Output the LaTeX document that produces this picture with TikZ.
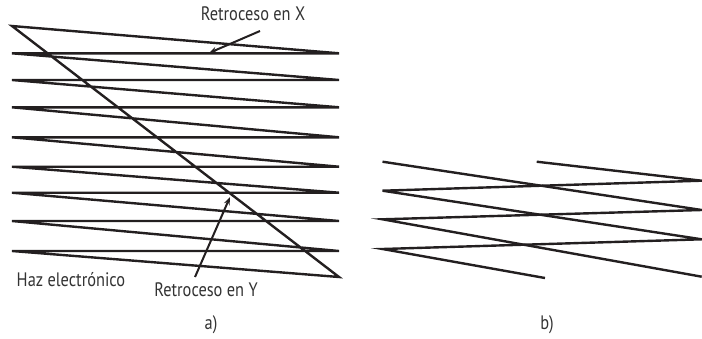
\documentclass[tikz,border=0pt]{standalone}
\usepackage{fontspec}
\setmainfont{PT Sans}
\usetikzlibrary{arrows.meta}
\definecolor{ink}{HTML}{231F20}
\definecolor{txt}{HTML}{333333}
\newcommand\narrowlbl[1]{\scalebox{0.84}[1]{#1}}
\begin{document}
\begin{tikzpicture}[x=1pt,y=-1pt,
  scan/.style={draw=ink, line width=2.4pt, line cap=butt, line join=miter},
  lbl/.style={inner sep=0pt, font=\fontsize{19.5}{19.5}\selectfont, text=txt},
  pointer/.style={draw=ink, line width=2pt, -{Stealth[length=8pt,width=6pt]}}]
\useasboundingbox (0,0) rectangle (702,338);
% part a
\draw[scan] (12,26) -- (339,53.3) -- (12,53.3) -- (339,80) -- (12,80) -- (339,107.3) -- (12,107.3)
  -- (339,137.3) -- (12,137.3) -- (339,166.7) -- (12,166.7) -- (339,192.7) -- (12,192.7)
  -- (339,221) -- (12,221) -- (339,251) -- (12,251) -- (339,277) -- cycle;
\node[lbl] (lx) at (253,14) {\narrowlbl{Retroceso en X}};
\node[lbl] (lh) at (71,280) {\narrowlbl{Haz electrónico}};
\node[lbl] (ly) at (206,290) {\narrowlbl{Retroceso en Y}};
\node[lbl] (la) at (211,325) {\narrowlbl{a)}};
\coordinate (xt) at (260,31);
\coordinate (xh) at (209,53);
\coordinate (yt) at (195,277);
\coordinate (yh) at (230,197);
\draw[pointer] (xt) -- (xh);
\draw[pointer] (yt) -- (yh);
% part b
\draw[scan] (536.7,161.7) -- (701.7,180.7) -- (382.5,190.7) -- (701.7,239.3) -- (382.5,249) -- (545,278);
\draw[scan] (382.5,161.7) -- (701.7,210) -- (382.5,219.3) -- (701.7,276.7);
\node[lbl] (lb) at (547,325) {\narrowlbl{b)}};
\end{tikzpicture}
\end{document}
